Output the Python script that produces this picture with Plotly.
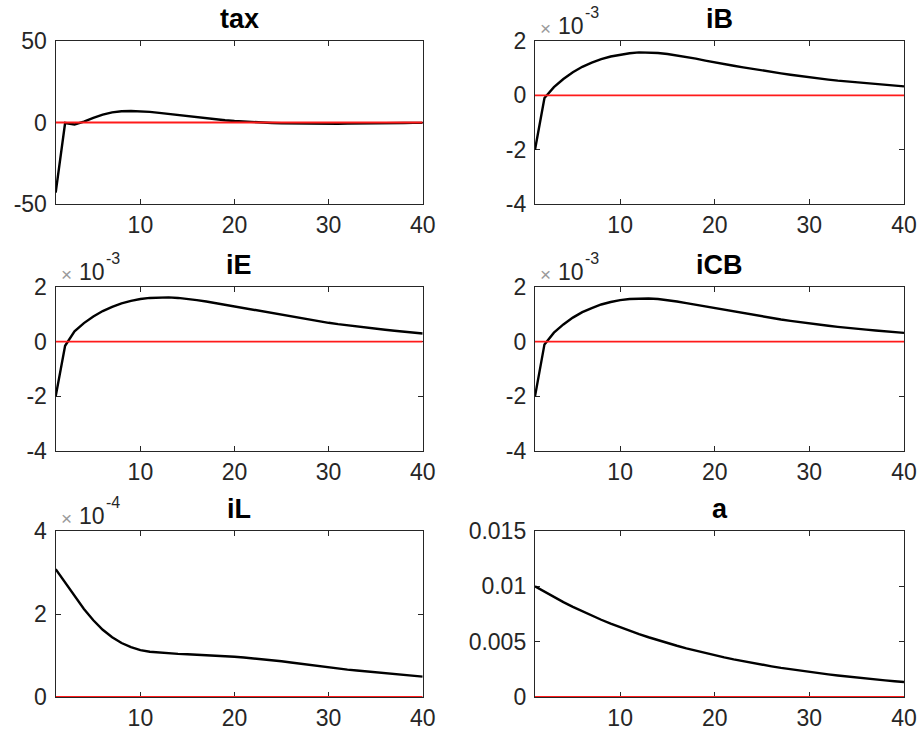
import plotly.graph_objects as go

periods = list(range(1, 41))

tax = [-43.0, -0.3, -1.2, 0.5, 2.8, 4.8, 6.2, 6.9, 7.1, 6.9, 6.5, 5.9, 5.2, 4.5, 3.8, 3.1, 2.5, 1.9, 1.4, 0.9,
       0.5, 0.2, -0.1, -0.3, -0.5, -0.6, -0.7, -0.8, -0.8, -0.8, -0.8, -0.7, -0.7, -0.6, -0.5, -0.4, -0.4, -0.3, -0.2, -0.2]

iB = [-2.0e-3, -0.1e-3, 0.3e-3, 0.6e-3, 0.85e-3, 1.05e-3, 1.2e-3, 1.33e-3, 1.43e-3, 1.5e-3,
      1.55e-3, 1.58e-3, 1.58e-3, 1.56e-3, 1.52e-3, 1.47e-3, 1.41e-3, 1.35e-3, 1.28e-3, 1.21e-3,
      1.15e-3, 1.09e-3, 1.03e-3, 0.97e-3, 0.91e-3, 0.86e-3, 0.81e-3, 0.76e-3, 0.71e-3, 0.665e-3,
      0.62e-3, 0.58e-3, 0.54e-3, 0.51e-3, 0.48e-3, 0.45e-3, 0.42e-3, 0.39e-3, 0.36e-3, 0.33e-3]

iE = [-2.0e-3, -0.15e-3, 0.38e-3, 0.68e-3, 0.92e-3, 1.12e-3, 1.27e-3, 1.4e-3, 1.49e-3, 1.56e-3,
      1.6e-3, 1.62e-3, 1.62e-3, 1.6e-3, 1.57e-3, 1.52e-3, 1.47e-3, 1.41e-3, 1.35e-3, 1.28e-3,
      1.22e-3, 1.15e-3, 1.09e-3, 1.03e-3, 0.97e-3, 0.91e-3, 0.855e-3, 0.8e-3, 0.745e-3, 0.69e-3,
      0.64e-3, 0.595e-3, 0.55e-3, 0.51e-3, 0.47e-3, 0.435e-3, 0.4e-3, 0.365e-3, 0.33e-3, 0.3e-3]

iCB = [-2.0e-3, -0.1e-3, 0.33e-3, 0.63e-3, 0.88e-3, 1.08e-3, 1.23e-3, 1.36e-3, 1.45e-3, 1.52e-3,
       1.56e-3, 1.58e-3, 1.58e-3, 1.56e-3, 1.52e-3, 1.47e-3, 1.41e-3, 1.35e-3, 1.28e-3, 1.21e-3,
       1.15e-3, 1.09e-3, 1.03e-3, 0.97e-3, 0.91e-3, 0.86e-3, 0.81e-3, 0.76e-3, 0.71e-3, 0.665e-3,
       0.62e-3, 0.58e-3, 0.54e-3, 0.5e-3, 0.47e-3, 0.44e-3, 0.41e-3, 0.38e-3, 0.35e-3, 0.32e-3]

iL = [3.08e-4, 2.75e-4, 2.42e-4, 2.12e-4, 1.85e-4, 1.62e-4, 1.44e-4, 1.3e-4, 1.2e-4, 1.13e-4,
      1.09e-4, 1.07e-4, 1.05e-4, 1.04e-4, 1.03e-4, 1.02e-4, 1.01e-4, 1.0e-4, 0.98e-4, 0.97e-4,
      0.95e-4, 0.93e-4, 0.91e-4, 0.88e-4, 0.86e-4, 0.83e-4, 0.8e-4, 0.77e-4, 0.74e-4, 0.71e-4,
      0.69e-4, 0.66e-4, 0.64e-4, 0.62e-4, 0.59e-4, 0.57e-4, 0.55e-4, 0.53e-4, 0.51e-4, 0.49e-4]

a = [0.0100, 0.0095, 0.0090, 0.00857, 0.00815, 0.00774, 0.00735, 0.00698, 0.00663, 0.0063,
     0.00599, 0.00569, 0.0054, 0.00513, 0.00488, 0.00463, 0.0044, 0.00418, 0.00397, 0.00377,
     0.00358, 0.0034, 0.00323, 0.00307, 0.00292, 0.00277, 0.00263, 0.0025, 0.00238, 0.00226,
     0.00215, 0.00204, 0.00194, 0.00184, 0.00175, 0.00166, 0.00158, 0.0015, 0.00142, 0.00135]

titles = ["tax", "iB", "iE", "iCB", "iL", "a"]
series = [tax, iB, iE, iCB, iL, a]
xticks = [10, 20, 30, 40]
yranges = [[-50, 50], [-4e-3, 2e-3], [-4e-3, 2e-3], [-4e-3, 2e-3], [0, 4e-4], [0, 0.015]]
ytickvals = [[-50, 0, 50], [-4e-3, -2e-3, 0, 2e-3], [-4e-3, -2e-3, 0, 2e-3], [-4e-3, -2e-3, 0, 2e-3],
             [0, 2e-4, 4e-4], [0, 0.005, 0.01, 0.015]]
yticktext = [["-50", "0", "50"], ["-4", "-2", "0", "2"], ["-4", "-2", "0", "2"], ["-4", "-2", "0", "2"],
             ["0", "2", "4"], ["0", "0.005", "0.01", "0.015"]]
exponents = [None, "-3", "-3", "-3", "-4", None]

W, H = 919, 735


def xd(p0, p1):
    return [p0 / W, p1 / W]


def yd(top, bottom):
    return [1 - bottom / H, 1 - top / H]


xdoms = [xd(55.7, 422.7), xd(535, 904)]
ydoms = [yd(41, 204), yd(287, 451), yd(531, 697)]

axcol = "#262626"
fnt = "Liberation Sans, Arial, Helvetica, sans-serif"

fig = go.Figure()
layout = dict(width=W, height=H, autosize=False,
              margin=dict(l=0, r=0, t=0, b=0, pad=0, autoexpand=False),
              paper_bgcolor="white", plot_bgcolor="white", showlegend=False,
              font=dict(family=fnt, size=23, color=axcol))
annotations = []
for i in range(6):
    r, c = divmod(i, 2)
    n = i + 1
    xa = "x" if n == 1 else f"x{n}"
    ya = "y" if n == 1 else f"y{n}"
    fig.add_trace(go.Scatter(x=periods, y=series[i], mode="lines",
                             line=dict(color="black", width=2.4), xaxis=xa, yaxis=ya))
    fig.add_trace(go.Scatter(x=[periods[0], periods[-1]], y=[0, 0], mode="lines",
                             line=dict(color="#ff1a1a", width=1.8), xaxis=xa, yaxis=ya))
    common = dict(showline=True, linecolor=axcol, linewidth=1.4, mirror="ticks", ticks="inside",
                  ticklen=5, tickwidth=1.2, tickcolor=axcol, showgrid=False, zeroline=False,
                  automargin=False, layer="below traces",
                  tickfont=dict(family=fnt, size=23, color=axcol))
    layout["xaxis" if n == 1 else f"xaxis{n}"] = dict(
        domain=xdoms[c], anchor=ya, range=[1, 40], tickvals=xticks, **common)
    layout["yaxis" if n == 1 else f"yaxis{n}"] = dict(
        domain=ydoms[r], anchor=xa, range=yranges[i], tickvals=ytickvals[i],
        ticktext=yticktext[i], ticklabelstandoff=3, **common)
    annotations.append(dict(text=f"<b>{titles[i]}</b>", x=(xdoms[c][0] + xdoms[c][1]) / 2,
                            y=ydoms[r][1], xref="paper", yref="paper", xanchor="center",
                            yanchor="bottom", yshift=5, showarrow=False,
                            font=dict(family=fnt, size=27, color="black")))
    if exponents[i]:
        base = dict(x=xdoms[c][0], y=ydoms[r][1], xref="paper", yref="paper",
                    xanchor="left", yanchor="bottom", showarrow=False)
        annotations.append(dict(text="×", xshift=3, yshift=0,
                                font=dict(family=fnt, size=19, color="#9a9a9a"), **base))
        annotations.append(dict(text="10", xshift=21, yshift=0,
                                font=dict(family=fnt, size=23, color=axcol), **base))
        annotations.append(dict(text=exponents[i], xshift=48, yshift=18,
                                font=dict(family=fnt, size=16, color=axcol), **base))
layout["annotations"] = annotations
fig.update_layout(**layout)
fig.write_html("out.html", config={"displayModeBar": False},
               post_script="document.body.style.margin='0';document.body.style.padding='0';")
